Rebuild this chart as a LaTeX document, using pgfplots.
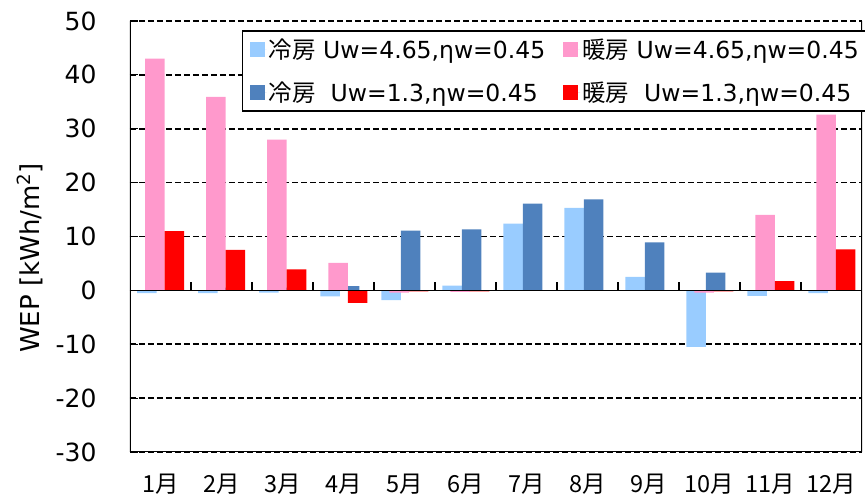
\documentclass[border=0pt]{standalone}
\usepackage{fontspec}
\setmainfont{DejaVu Sans}
\newfontfamily\jp{Noto Sans CJK JP}
\usepackage{pgfplots}
\pgfplotsset{compat=1.18}
\definecolor{lb}{HTML}{99CCFF}
\definecolor{pk}{HTML}{FF99CC}
\definecolor{db}{HTML}{4F81BD}
\definecolor{rd}{HTML}{FF0000}
\begin{document}
\begin{tikzpicture}
\begin{axis}[
  name=ax,
  scale only axis, width=732pt, height=431pt,
  xmin=0.5, xmax=12.5, ymin=-30, ymax=50,
  ybar, bar width=19.5pt,
  axis line style={draw=none},
  xtick={1,...,12},
  xticklabels={1月,2月,3月,4月,5月,6月,7月,8月,9月,10月,11月,12月},
  xtick style={draw=none},
  xticklabel style={font=\jp\fontsize{23.5}{26}\selectfont, yshift=-18pt},
  ytick={-30,-20,...,50},
  yticklabels={-30,-20,-10,0,10,20,30,40,50},
  ytick pos=left, tick align=inside, major tick length=8pt,
  ytick style={black, line width=1.2pt},
  yticklabel style={font=\fontsize{25}{28}\selectfont, xshift=-30pt},
  ymajorgrids,
  grid style={black, line width=1.6pt, dash pattern=on 6pt off 3pt},
  ylabel={WEP [kWh/m\textsuperscript{2}]},
  ylabel style={font=\fontsize{26}{30}\selectfont, at={(axis description cs:-0.137,0.45)}, anchor=center},
  legend columns=2, transpose legend,
  legend cell align=left,
  legend image code/.code={\fill[#1] (0pt,-7.5pt) rectangle (15pt,7.5pt); \path (0pt,0pt) -- (17pt,0pt);},
  legend style={at={(rel axis cs:0.153,0.979)}, anchor=north west, draw=black, line width=1.5pt, fill=white,
    font=\fontsize{23.5}{26}\selectfont, inner xsep=7pt, inner ysep=6pt, row sep=18pt,
    /tikz/every even column/.append style={column sep=16pt}},
]
\addplot[fill=lb, draw=none, bar shift=-13.5pt] coordinates {
(1,-0.5) (2,-0.5) (3,-0.4) (4,-1.1) (5,-1.8) (6,0.9) (7,12.4) (8,15.3) (9,2.5) (10,-10.5) (11,-1.0) (12,-0.5)};
\addlegendentry{{\jp 冷房} Uw=4.65,ηw=0.45}
\addplot[fill=db, draw=none, bar shift=6pt] coordinates {
(1,0) (2,0.5) (3,0.5) (4,0.8) (5,11.1) (6,11.3) (7,16.1) (8,16.9) (9,8.9) (10,3.3) (11,0) (12,0)};
\addlegendentry{{\jp 冷房}\ \ Uw=1.3,ηw=0.45}
\addplot[fill=pk, draw=none, bar shift=-5.5pt] coordinates {
(1,43.0) (2,35.9) (3,28.0) (4,5.1) (5,-0.4) (6,-0.3) (7,0) (8,0) (9,0) (10,-0.4) (11,14.0) (12,32.6)};
\addlegendentry{{\jp 暖房} Uw=4.65,ηw=0.45}
\addplot[fill=rd, draw=none, bar shift=14pt] coordinates {
(1,11.0) (2,7.5) (3,3.9) (4,-2.3) (5,-0.2) (6,-0.2) (7,0) (8,0) (9,0) (10,-0.2) (11,1.7) (12,7.6)};
\addlegendentry{{\jp 暖房}\ \ Uw=1.3,ηw=0.45}
\draw[black, line width=1.5pt] (axis cs:0.5,0) -- (axis cs:12.5,0);
\pgfplotsinvokeforeach{1.5,2.5,...,11.5}{\draw[black, line width=1.2pt] (axis cs:#1,0) -- ++(0pt,8pt);}
\draw[black, line width=2pt] (rel axis cs:0,1) -- (rel axis cs:0,0) -- (rel axis cs:1,0) -- (rel axis cs:1,1);
\end{axis}
\pgfresetboundingbox
\useasboundingbox ([xshift=-130pt,yshift=-47pt]ax.south west) rectangle ([xshift=3pt,yshift=21pt]ax.north east);
\end{tikzpicture}
\end{document}
